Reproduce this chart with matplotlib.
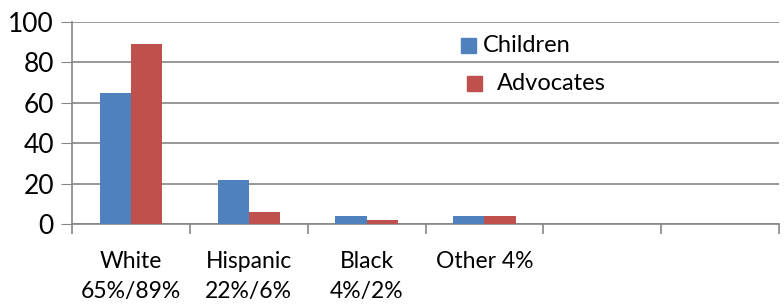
import matplotlib.pyplot as plt
import numpy as np
from matplotlib.patches import Rectangle

# data
categories = ["White\n65%/89%", "Hispanic\n22%/6%", "Black\n4%/2%", "Other 4%", "", ""]
children = [65, 22, 4, 4, 0, 0]
advocates = [89, 6, 2, 4, 0, 0]
series_names = ["Children", "Advocates"]
colors = ["#4F81BD", "#C0504D"]

plt.rcParams['font.family'] = ['Lato', 'DejaVu Sans']

fig = plt.figure(figsize=(7.84, 3.04), dpi=100)
ax = fig.add_axes([72 / 784, 1 - 224 / 304, (779 - 72) / 784, (224 - 22) / 304])

x = np.arange(len(categories))
w = 0.265
ax.bar(x - w / 2, children, width=w, color=colors[0], zorder=3)
ax.bar(x + w / 2, advocates, width=w, color=colors[1], zorder=3)

ax.set_xlim(-0.5, len(categories) - 0.5)
ax.set_ylim(0, 100)
ax.set_yticks(range(0, 101, 20))
ax.tick_params(axis='y', labelsize=19, length=8, color='#868686', pad=5)
ax.yaxis.grid(True, color='#868686', linewidth=1.2, zorder=0)

# category boundary ticks
ax.set_xticks(np.arange(-0.5, len(categories), 1.0))
ax.set_xticklabels([])
ax.tick_params(axis='x', length=7, color='#868686', width=1.2)
for xi, lab in zip(x, categories):
    ax.text(xi, -13.5, lab, ha='center', va='top', fontsize=16.5, linespacing=1.5)

for s in ['top', 'right']:
    ax.spines[s].set_visible(False)
for s in ['left', 'bottom']:
    ax.spines[s].set_color('#868686')
    ax.spines[s].set_linewidth(1.2)

# legend drawn by hand to match the original offsets
leg_pos = [(461, 38, 483), (467, 76, 497)]
for name, c, (px, py, tx) in zip(series_names, colors, leg_pos):
    fig.patches.append(Rectangle((px / 784, 1 - (py + 15) / 304), 15 / 784, 15 / 304,
                                 color=c, transform=fig.transFigure))
    fig.text(tx / 784, 1 - (py + 7) / 304, name, ha='left', va='center', fontsize=17)

fig.savefig("out.png", dpi=100)
